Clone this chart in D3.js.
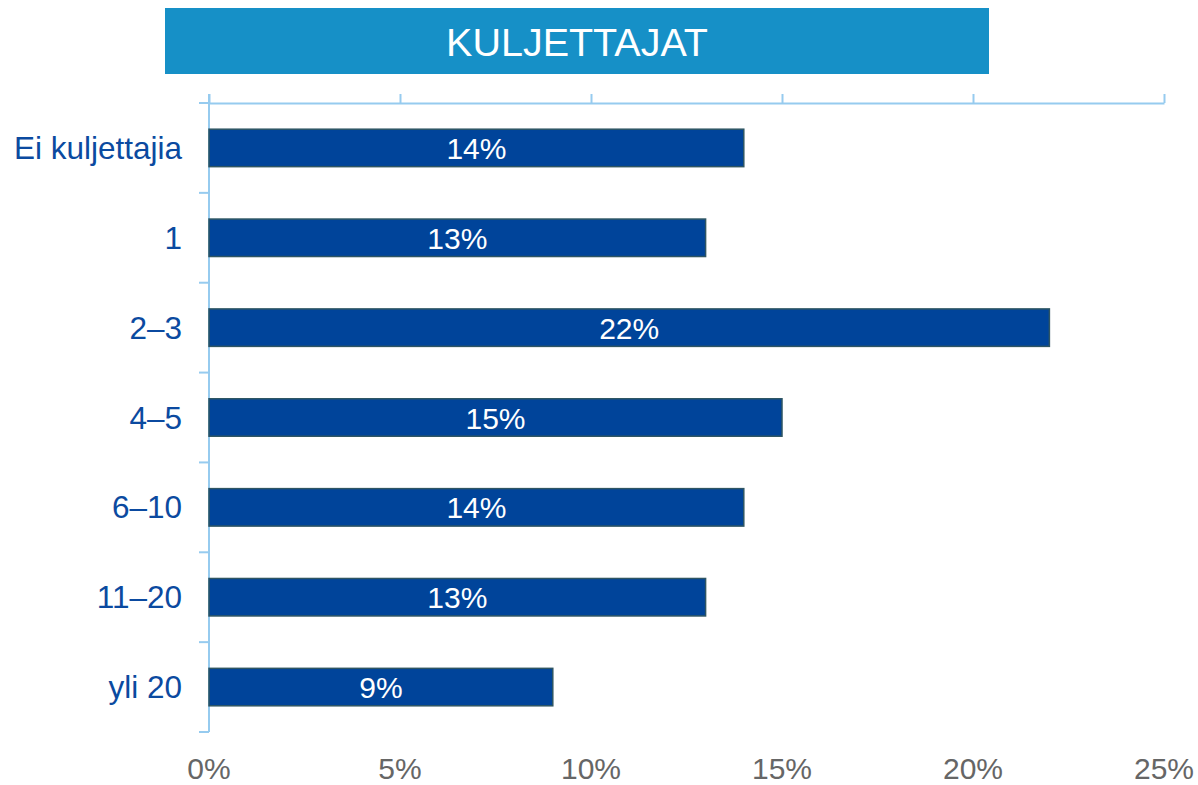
<!DOCTYPE html>
<html lang="fi">
<head>
<meta charset="utf-8">
<title>Kuljettajat</title>
<script src="https://d3js.org/d3.v7.min.js"></script>
<style>
  body { margin: 0; background: #fff; }
  svg text { font-family: "Liberation Sans", Arial, sans-serif; }
</style>
</head>
<body>
<div id="chart"></div>
<script>
// data
var categories = ["Ei kuljettajia", "1", "2\u20133", "4\u20135", "6\u201310", "11\u201320", "yli 20"];
var shares = [14, 13, 22, 15, 14, 13, 9];
var tickValues = [0, 5, 10, 15, 20, 25];
var titleText = "KULJETTAJAT";

var width = 1198, height = 785;
var axisCol = "#96cbef";

var svg = d3.select("#chart").append("svg")
  .attr("width", width)
  .attr("height", height);

// title banner
svg.append("rect")
  .attr("x", 165).attr("y", 8)
  .attr("width", 824).attr("height", 66)
  .attr("fill", "#1690c7");
svg.append("text")
  .attr("x", 577).attr("y", 56)
  .attr("text-anchor", "middle")
  .attr("fill", "#fff")
  .attr("font-size", 39.5)
  .text(titleText);

var x = d3.scaleLinear().domain([0, 25]).range([209, 1164]);
var y = d3.scaleBand().domain(categories).range([103, 732])
  .paddingInner(0.583).paddingOuter(0.2915);

// top axis (ticks only, no labels)
var topAxis = svg.append("g")
  .attr("transform", "translate(0,103)")
  .call(d3.axisTop(x).tickValues(tickValues).tickSize(9).tickSizeOuter(0).tickFormat(""));
topAxis.select(".domain").attr("stroke", axisCol).attr("stroke-width", 2);
topAxis.selectAll(".tick line").attr("stroke", axisCol).attr("stroke-width", 2);

// vertical axis with ticks at band boundaries
svg.append("line")
  .attr("x1", x(0)).attr("x2", x(0))
  .attr("y1", 94).attr("y2", 732)
  .attr("stroke", axisCol).attr("stroke-width", 2);
var bounds = d3.range(categories.length + 1).map(function(i) { return 103 + i * y.step(); });
svg.selectAll(".ctick").data(bounds).enter().append("line")
  .attr("class", "ctick")
  .attr("x1", x(0) - 10).attr("x2", x(0))
  .attr("y1", function(d) { return d; }).attr("y2", function(d) { return d; })
  .attr("stroke", axisCol).attr("stroke-width", 2);

// bars
svg.selectAll(".bar").data(shares).enter().append("rect")
  .attr("class", "bar")
  .attr("x", x(0))
  .attr("y", function(d, i) { return y(categories[i]); })
  .attr("width", function(d) { return x(d) - x(0); })
  .attr("height", y.bandwidth())
  .attr("fill", "#00449a")
  .attr("stroke", "#2e5563")
  .attr("stroke-width", 1.5);

// value labels
svg.selectAll(".val").data(shares).enter().append("text")
  .attr("class", "val")
  .attr("x", function(d) { return (x(d) + x(0)) / 2; })
  .attr("y", function(d, i) { return y(categories[i]) + y.bandwidth() / 2 + 11; })
  .attr("text-anchor", "middle")
  .attr("fill", "#fff")
  .attr("font-size", 30)
  .text(function(d) { return d + "%"; });

// category labels
svg.selectAll(".cat").data(categories).enter().append("text")
  .attr("class", "cat")
  .attr("x", 182)
  .attr("y", function(d) { return y(d) + y.bandwidth() / 2 + 11; })
  .attr("text-anchor", "end")
  .attr("fill", "#0b4aa0")
  .attr("font-size", 31.5)
  .text(function(d) { return d; });

// bottom tick labels
svg.selectAll(".xl").data(tickValues).enter().append("text")
  .attr("class", "xl")
  .attr("x", function(d) { return x(d); })
  .attr("y", 779)
  .attr("text-anchor", "middle")
  .attr("fill", "#666")
  .attr("font-size", 30)
  .text(function(d) { return d + "%"; });
</script>
</body>
</html>
